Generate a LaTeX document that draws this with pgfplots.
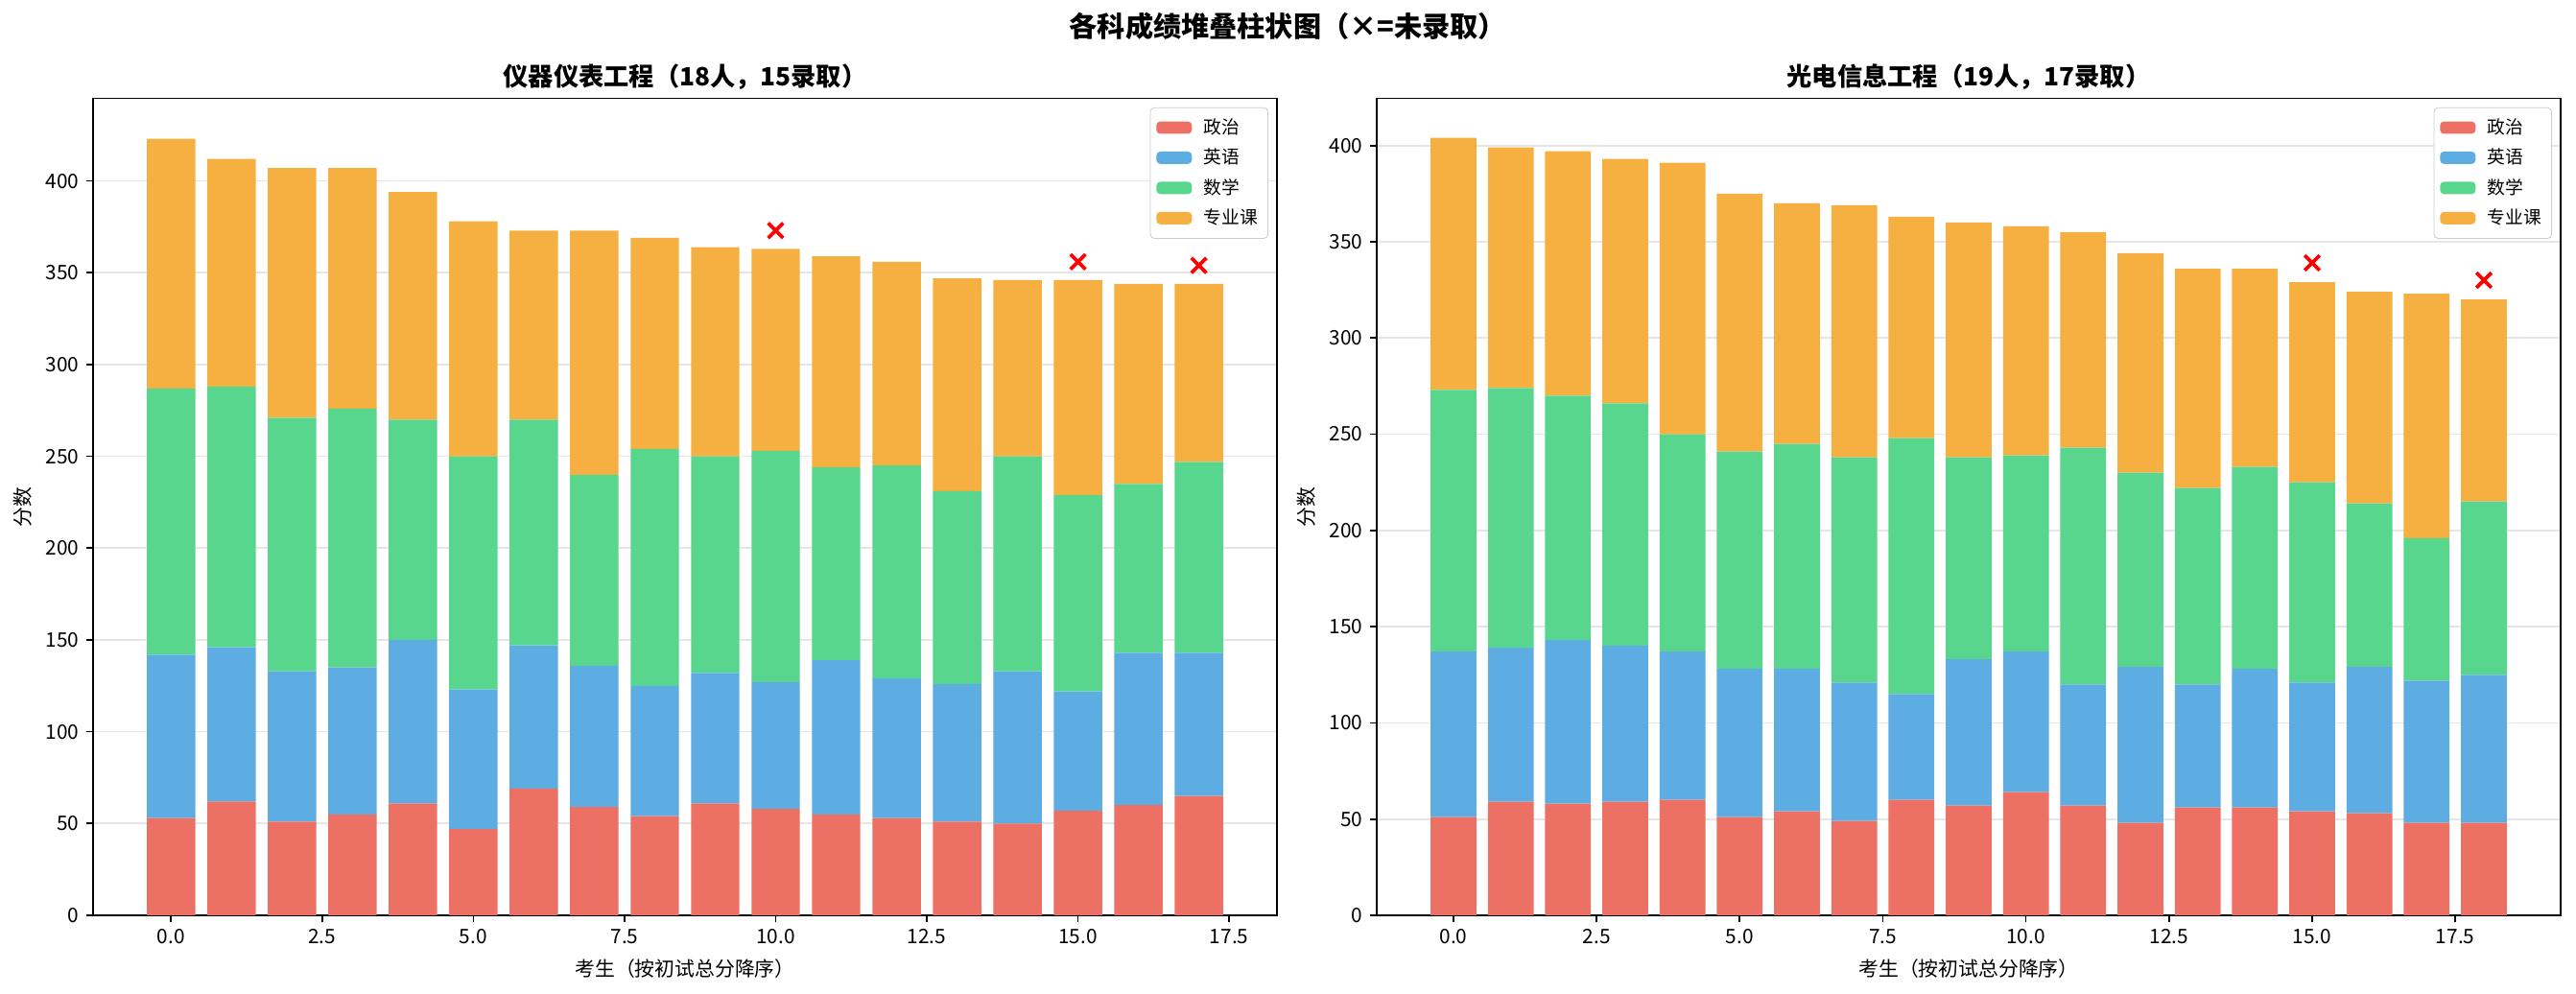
\documentclass[border=0pt]{standalone}
\usepackage{fontspec}
\setmainfont{Noto Sans CJK SC}
\usepackage{pgfplots}
\pgfplotsset{compat=1.18}
\usepackage{pgfplotstable}

\definecolor{cpol}{HTML}{EC7063}
\definecolor{ceng}{HTML}{5DADE2}
\definecolor{cmath}{HTML}{58D68D}
\definecolor{cpro}{HTML}{F5B041}
\definecolor{gridc}{RGB}{230,230,230}
\definecolor{legc}{RGB}{204,204,204}

\pgfplotstableread{
x pol eng math pro
0 53 89 145 136
1 62 84 142 124
2 51 82 138 136
3 55 80 141 131
4 61 89 120 124
5 47 76 127 128
6 69 78 123 103
7 59 77 104 133
8 54 71 129 115
9 61 71 118 114
10 58 69 126 110
11 55 84 105 115
12 53 76 116 111
13 51 75 105 116
14 50 83 117 96
15 57 65 107 117
16 60 83 92 109
17 65 78 104 97
}\tableA

\pgfplotstableread{
x y
10 373
15 356
17 354
}\failA

\pgfplotstableread{
x pol eng math pro
0 51 86 136 131
1 59 80 135 125
2 58 85 127 127
3 59 81 126 127
4 60 77 113 141
5 51 77 113 134
6 54 74 117 125
7 49 72 117 131
8 60 55 133 115
9 57 76 105 122
10 64 73 102 119
11 57 63 123 112
12 48 81 101 114
13 56 64 102 114
14 56 72 105 103
15 54 67 104 104
16 53 76 85 110
17 48 74 74 127
18 48 77 90 105
}\tableB

\pgfplotstableread{
x y
15 339
18 330
}\failB

\pgfplotsset{
  geom/.style={
    scale only axis, width=592.3pt, height=408.7pt,
    ymin=0,
  },
  base/.style={
    geom,
    ybar stacked, bar width=0.8,
    axis line style={line width=0.8pt, black},
    tick align=outside, major tick length=3.5pt,
    every tick/.style={black, line width=0.8pt},
    xtick pos=bottom, ytick pos=left,
    xtick={0,2.5,5,7.5,10,12.5,15,17.5},
    ytick={0,50,100,150,200,250,300,350,400},
    /pgf/number format/assume math mode=true,
    xticklabel={\pgfmathprintnumber[fixed,fixed zerofill,precision=1]{\tick}},
    tick label style={font=\fontsize{10}{12}\selectfont},
    ymajorgrids, major grid style={color=gridc, line width=0.8pt},
    title style={font=\bfseries\fontsize{12.6}{15}\selectfont, at={(axis description cs:0.5,1)}, anchor=center, yshift=4.8pt},
    xlabel={考生（按初试总分降序）},
    ylabel={分数},
    label style={font=\fontsize{10}{12}\selectfont},
    xlabel style={at={(axis description cs:0.5,0)}, anchor=center, yshift=-26.9pt},
    legend style={at={(axis description cs:0.9927,0.989)}, anchor=north east,
      draw=legc, rounded corners=2pt, fill=white,
      font=\fontsize{9}{10.8}\selectfont, inner xsep=3pt, inner ysep=3.5pt, row sep=2pt, column sep=4pt, cells={anchor=west}},
    legend image code/.code={\fill[##1,draw=none] (0pt,-3pt) rectangle (17.8pt,3.2pt);},
  },
  marks/.style={geom, hide axis},
}

\begin{document}
\begin{tikzpicture}
\path[use as bounding box] (-46.56pt,-39.36pt) rectangle (1242.24pt,457.92pt);
\node[font=\bfseries\fontsize{14}{17}\selectfont, anchor=center] at (597.8pt,445pt) {各科成绩堆叠柱状图（×=未录取）};

% left
\begin{axis}[base, xmin=-1.29, xmax=18.29, ymax=445,
  title={仪器仪表工程（18人，15录取）},
  ylabel style={at={(axis description cs:-0.0591,0.5)}, anchor=center}]
\addplot[fill=cpol, draw=none] table[x=x,y=pol]{\tableA};
\addplot[fill=ceng, draw=none] table[x=x,y=eng]{\tableA};
\addplot[fill=cmath, draw=none] table[x=x,y=math]{\tableA};
\addplot[fill=cpro, draw=none] table[x=x,y=pro]{\tableA};
\legend{政治,英语,数学,专业课}
\end{axis}
\begin{axis}[marks, xmin=-1.29, xmax=18.29, ymax=445]
\addplot[only marks, mark=x, red, mark size=5.3pt, line width=1.8pt] table[x=x,y=y]{\failA};
\end{axis}

% right
\begin{axis}[base, at={(642.24pt,0pt)}, xmin=-1.34, xmax=19.34, ymax=424.5,
  title={光电信息工程（19人，17录取）},
  ylabel style={at={(axis description cs:-0.0591,0.5)}, anchor=center}]
\addplot[fill=cpol, draw=none] table[x=x,y=pol]{\tableB};
\addplot[fill=ceng, draw=none] table[x=x,y=eng]{\tableB};
\addplot[fill=cmath, draw=none] table[x=x,y=math]{\tableB};
\addplot[fill=cpro, draw=none] table[x=x,y=pro]{\tableB};
\legend{政治,英语,数学,专业课}
\end{axis}
\begin{axis}[marks, at={(642.24pt,0pt)}, xmin=-1.34, xmax=19.34, ymax=424.5]
\addplot[only marks, mark=x, red, mark size=5.3pt, line width=1.8pt] table[x=x,y=y]{\failB};
\end{axis}
\end{tikzpicture}
\end{document}
